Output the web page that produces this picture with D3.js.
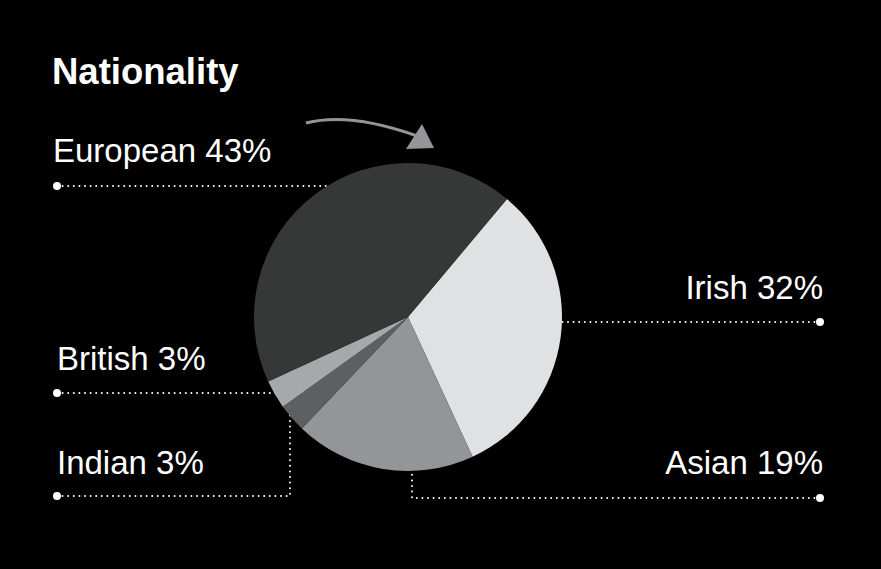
<!DOCTYPE html>
<meta charset="utf-8">
<script src="https://d3js.org/d3.v7.min.js"></script>
<style>
  body { margin: 0; background: #000; }
  text { font-family: "Liberation Sans", Arial, sans-serif; fill: #fff; }
</style>
<svg id="chart" width="881" height="569"></svg>
<script>

// data (clockwise from the top-right)
var categories = ["Irish", "Asian", "Indian", "British", "European"];
var shares = [32, 19, 3, 3, 43];
var colors = ["#e0e1e2", "#939598", "#5e5f61", "#a6a8ab", "#363837"];

var cx = 408, cy = 317, radius = 154;
var start = 40 * Math.PI / 180;

var svg = d3.select("#chart");
svg.append("rect").attr("width", 881).attr("height", 569).attr("fill", "#000");

svg.append("text")
  .attr("x", 52).attr("y", 84)
  .style("font-size", "36.5px").style("font-weight", "bold")
  .text("Nationality");

// label settings: where the text sits, where the leader line goes
var labels = {
  European: {tx: 53, ty: 162, anchor: "start", dot: [57, 186], path: [[57, 186], [cx, 186]]},
  Irish:    {tx: 823, ty: 299, anchor: "end", dot: [820, 322], path: [[820, 322], [cx, 322]]},
  Asian:    {tx: 823, ty: 474, anchor: "end", dot: [820, 498], path: [[820, 498], [412, 498], [412, cy]]},
  British:  {tx: 57, ty: 370, anchor: "start", dot: [57, 393], path: [[57, 393], [cx, 393]]},
  Indian:   {tx: 57, ty: 474, anchor: "start", dot: [57, 496], path: [[57, 496], [290, 496], [290, cy]]}
};

var line = d3.line();
categories.forEach(function(c, i) {
  var l = labels[c];
  svg.append("path")
    .attr("d", line(l.path))
    .attr("fill", "none")
    .attr("stroke", "#fff")
    .attr("stroke-width", 2)
    .attr("stroke-linecap", "round")
    .attr("stroke-dasharray", "0,5.6");
  svg.append("circle")
    .attr("cx", l.dot[0]).attr("cy", l.dot[1]).attr("r", 4)
    .attr("fill", "#fff");
  svg.append("text")
    .attr("x", l.tx).attr("y", l.ty)
    .attr("text-anchor", l.anchor)
    .style("font-size", "33px")
    .text(c + " " + shares[i] + "%");
});

// pie
var pie = d3.pie().sort(null).startAngle(start).endAngle(start + 2 * Math.PI);
var arc = d3.arc().innerRadius(0).outerRadius(radius);

svg.append("g")
  .attr("transform", "translate(" + cx + "," + cy + ")")
  .selectAll("path")
  .data(pie(shares))
  .enter()
  .append("path")
    .attr("d", arc)
    .attr("fill", function(d, i) { return colors[i]; });

// arrow
svg.append("path")
  .attr("d", "M306,123 Q350,112 417,136")
  .attr("fill", "none")
  .attr("stroke", "#939598")
  .attr("stroke-width", 3);
svg.append("path")
  .attr("d", "M422,124 L406,149 L434,148 Z")
  .attr("fill", "#939598");

</script>
